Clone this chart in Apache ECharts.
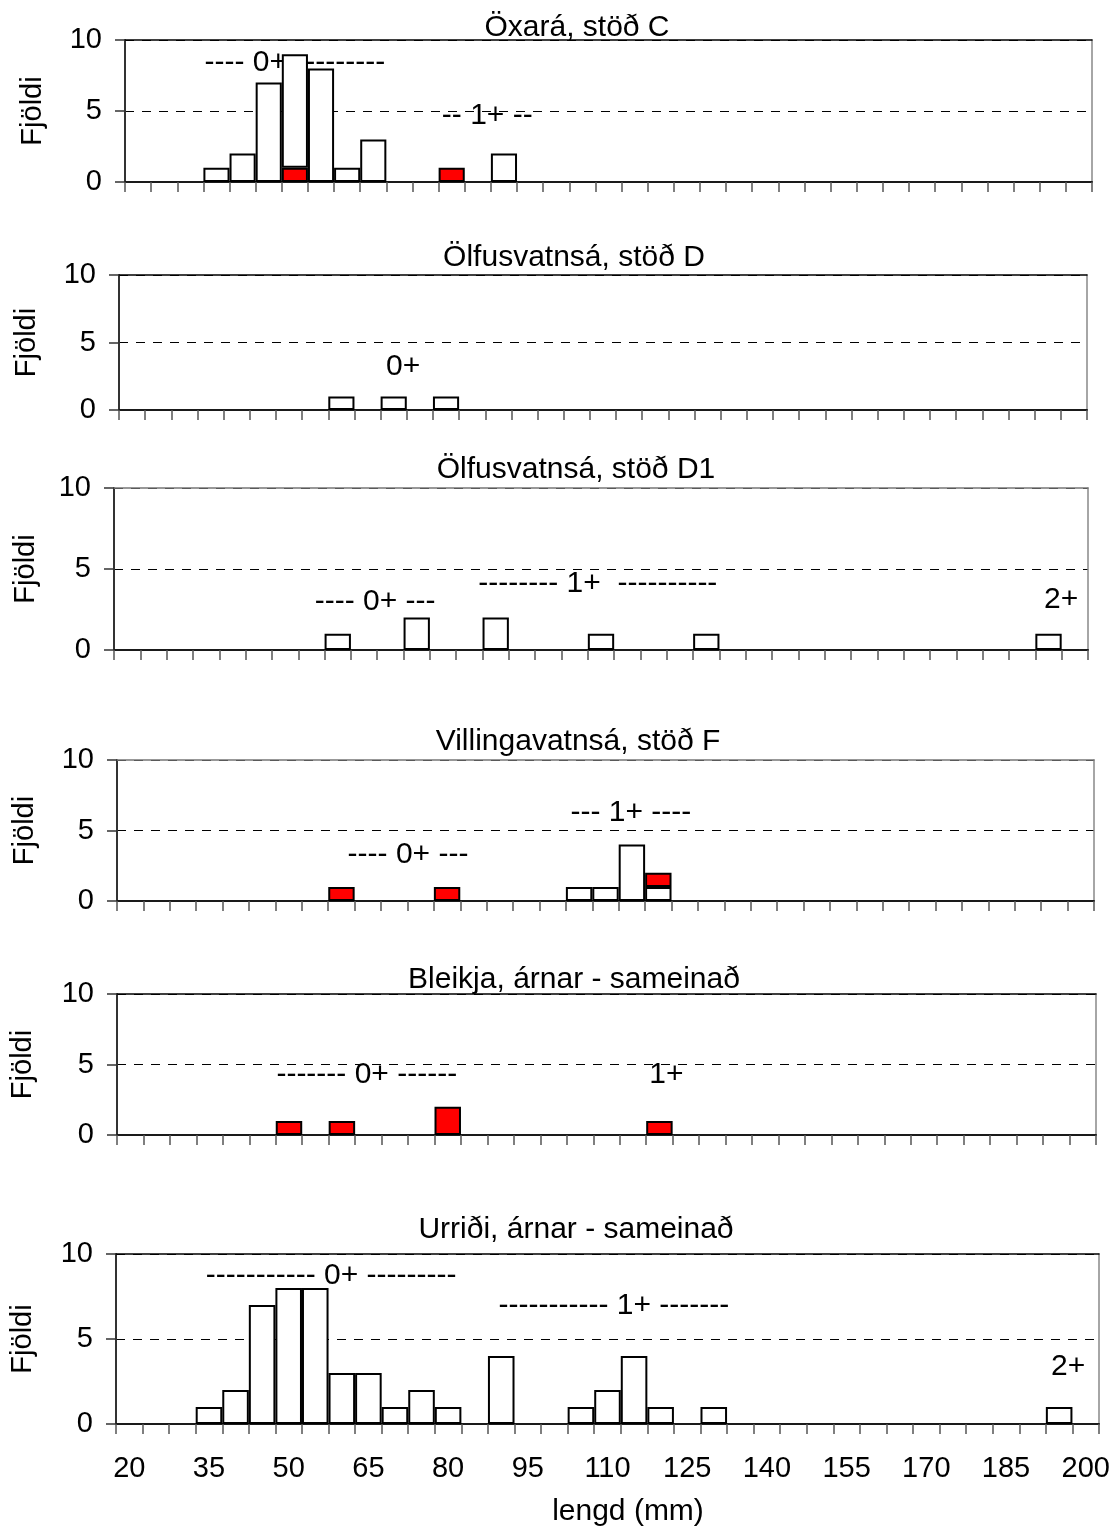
<!DOCTYPE html>
<html>
<head>
<meta charset="utf-8">
<script src="https://cdn.jsdelivr.net/npm/echarts@6/dist/echarts.min.js"></script>
<style>
html,body{margin:0;padding:0;background:#fff}
#c{width:1120px;height:1531px}
</style>
</head>
<body>
<div id="c"></div>
<script>
// ---------- DATA ----------
const lengthBins = ['20','25','30','35','40','45','50','55','60','65','70','75','80','85','90','95','100','105','110','115','120','125','130','135','140','145','150','155','160','165','170','175','180','185','190','195','200'];
const tickLabels = ['20','35','50','65','80','95','110','125','140','155','170','185','200'];
const panelTitles = ['Öxará, stöð C','Ölfusvatnsá, stöð D','Ölfusvatnsá, stöð D1','Villingavatnsá, stöð F','Bleikja, árnar - sameinað','Urriði, árnar - sameinað'];
const yAxisName = 'Fjöldi';
const xAxisName = 'lengd (mm)';

// counts per 5 mm length bin; white = urriði, red = bleikja
const oxaraUrridi   = [0,0,0,1,2,7,8,8,1,3, 0,0,0,0,2,0,0,0,0,0, 0,0,0,0,0,0,0,0,0,0, 0,0,0,0,0,0,0];
const oxaraBleikja  = [0,0,0,0,0,0,1,0,0,0, 0,0,1,0,0,0,0,0,0,0, 0,0,0,0,0,0,0,0,0,0, 0,0,0,0,0,0,0];
const dUrridi       = [0,0,0,0,0,0,0,0,1,0, 1,0,1,0,0,0,0,0,0,0, 0,0,0,0,0,0,0,0,0,0, 0,0,0,0,0,0,0];
const d1Urridi      = [0,0,0,0,0,0,0,0,1,0, 0,2,0,0,2,0,0,0,1,0, 0,0,1,0,0,0,0,0,0,0, 0,0,0,0,0,1,0];
const fUrridi       = [0,0,0,0,0,0,0,0,0,0, 0,0,0,0,0,0,0,1,1,4, 1,0,0,0,0,0,0,0,0,0, 0,0,0,0,0,0,0];
const fBleikja      = [0,0,0,0,0,0,0,0,1,0, 0,0,1,0,0,0,0,0,0,0, 1,0,0,0,0,0,0,0,0,0, 0,0,0,0,0,0,0];
const bleikjaAll    = [0,0,0,0,0,0,1,0,1,0, 0,0,2,0,0,0,0,0,0,0, 1,0,0,0,0,0,0,0,0,0, 0,0,0,0,0,0,0];
const urridiAll     = [0,0,0,1,2,7,8,8,3,3, 1,2,1,0,4,0,0,1,2,4, 1,0,1,0,0,0,0,0,0,0, 0,0,0,0,0,1,0];

// age-group annotations: [length (mm), count, text]
const oxaraNotes   = [[50, 8.4, '---- 0+ ---------'], [86.8, 4.65, '-- 1+ --']];
const dNotes       = [[71.8, 3.2, '0+']];
const d1Notes      = [[67.1, 3.0, '---- 0+ ---'], [109.4, 4.07, '-------- 1+  ----------'], [197.4, 3.1, '2+']];
const fNotes       = [[72.6, 3.26, '---- 0+ ---'], [114.8, 6.24, '--- 1+ ----']];
const bleikjaNotes = [[64.7, 4.26, '------- 0+ ------'], [121.3, 4.26, '1+']];
const urridiNotes  = [[58.0, 8.7, '----------- 0+ ---------'], [111.2, 6.94, '----------- 1+ -------'], [196.7, 3.35, '2+']];

// ---------- BUILD ----------
const FONT = "'Liberation Sans', Arial, sans-serif";
const RED = '#ff0000', WHITE = '#ffffff';

const panels = [
  {stack: [[oxaraBleikja, RED], [oxaraUrridi, WHITE]], notes: oxaraNotes},
  {stack: [[dUrridi, WHITE]], notes: dNotes},
  {stack: [[d1Urridi, WHITE]], notes: d1Notes},
  {stack: [[fUrridi, WHITE], [fBleikja, RED]], notes: fNotes},
  {stack: [[bleikjaAll, RED]], notes: bleikjaNotes},
  {stack: [[urridiAll, WHITE]], notes: urridiNotes}
];

// layout (pixels)
const layout = [
  {l:125, r:1092, t:40,   b:182,  tx:577, ty:13,   gap:78, top:'#000'},
  {l:119, r:1087, t:275,  b:410,  tx:574, ty:243,  gap:78, top:'#000'},
  {l:114, r:1088, t:488,  b:650,  tx:576, ty:455,  gap:74, top:'#777'},
  {l:117, r:1094, t:760,  b:901,  tx:578, ty:727,  gap:78, top:'#777'},
  {l:116, r:1096, t:994,  b:1135, tx:574, ty:965,  gap:80, top:'#000'},
  {l:116, r:1099, t:1254, b:1424, tx:576, ty:1215, gap:79, top:'#000'}
];

const grids = [], xAxes = [], yAxes = [], series = [], titles = [];
const last = panels.length - 1;

panels.forEach((p, i) => {
  const L = layout[i];
  grids.push({left: L.l, top: L.t, width: L.r - L.l, height: L.b - L.t, containLabel: false});
  titles.push({
    text: panelTitles[i], left: L.tx, top: L.ty, textAlign: 'center', padding: 0,
    textStyle: {fontSize: 30, fontWeight: 'normal', color: '#000', fontFamily: FONT}
  });
  xAxes.push({
    type: 'category', gridIndex: i, data: lengthBins, boundaryGap: true, position: 'bottom',
    axisLine: {show: true, onZero: false, lineStyle: {color: '#1a1a1a', width: 2}},
    axisTick: {show: true, interval: 0, length: 10, lineStyle: {color: '#555', width: 1.5}},
    axisLabel: {
      show: i === last, interval: (idx, val) => tickLabels.includes(val),
      margin: 30, fontSize: 29, color: '#000', fontFamily: FONT
    },
    splitLine: {show: false},
    name: i === last ? xAxisName : '', nameLocation: 'middle', nameGap: 73,
    nameTextStyle: {fontSize: 30, color: '#000', fontFamily: FONT, padding: [0, 0, 0, 41]}
  });
  xAxes.push({
    type: 'value', gridIndex: i, position: 'top', min: 17.5, max: 202.5,
    axisLine: {show: true, onZero: false, lineStyle: {color: L.top, width: 1.5}},
    axisTick: {show: false}, axisLabel: {show: false}, splitLine: {show: false}
  });
  yAxes.push({
    type: 'value', gridIndex: i, min: 0, max: 10, interval: 5, position: 'left',
    axisLine: {show: true, onZero: false, lineStyle: {color: '#333', width: 2}},
    axisTick: {show: true, length: 10, lineStyle: {color: '#333', width: 1.5}},
    axisLabel: {fontSize: 29, color: '#000', margin: 23, fontFamily: FONT},
    splitLine: {show: true, lineStyle: {color: '#000', type: [9, 8], width: 1}},
    name: yAxisName, nameLocation: 'middle', nameGap: L.gap, nameRotate: 90,
    nameTextStyle: {fontSize: 29, color: '#000', fontFamily: FONT}
  });
  yAxes.push({
    type: 'value', gridIndex: i, min: 0, max: 10, position: 'right',
    axisLine: {show: true, onZero: false, lineStyle: {color: '#888', width: 1.5}},
    axisTick: {show: false}, axisLabel: {show: false}, splitLine: {show: false}
  });
  p.stack.forEach(([arr, color]) => {
    series.push({
      type: 'bar', xAxisIndex: 2 * i, yAxisIndex: 2 * i, stack: 'p' + i,
      data: arr.map(v => (v ? v : null)), barCategoryGap: '0%', barGap: '0%',
      itemStyle: {color: color, borderColor: '#000', borderWidth: 2},
      z: 3, silent: true
    });
  });
  series.push({
    type: 'scatter', xAxisIndex: 2 * i + 1, yAxisIndex: 2 * i,
    data: p.notes.map(n => ({name: n[2], value: [n[0], n[1]]})),
    symbol: 'circle', symbolSize: 1, itemStyle: {color: 'rgba(255,255,255,0)'},
    label: {
      show: true, position: 'inside', formatter: '{b}', fontSize: 30,
      color: '#000', opacity: 1, textBorderWidth: 0, fontFamily: FONT
    },
    z: 1, silent: true
  });
});

const chart = echarts.init(document.getElementById('c'), null, {renderer: 'canvas'});
chart.setOption({
  animation: false,
  backgroundColor: '#fff',
  textStyle: {fontFamily: FONT},
  title: titles,
  grid: grids,
  xAxis: xAxes,
  yAxis: yAxes,
  series: series
});
</script>
</body>
</html>
